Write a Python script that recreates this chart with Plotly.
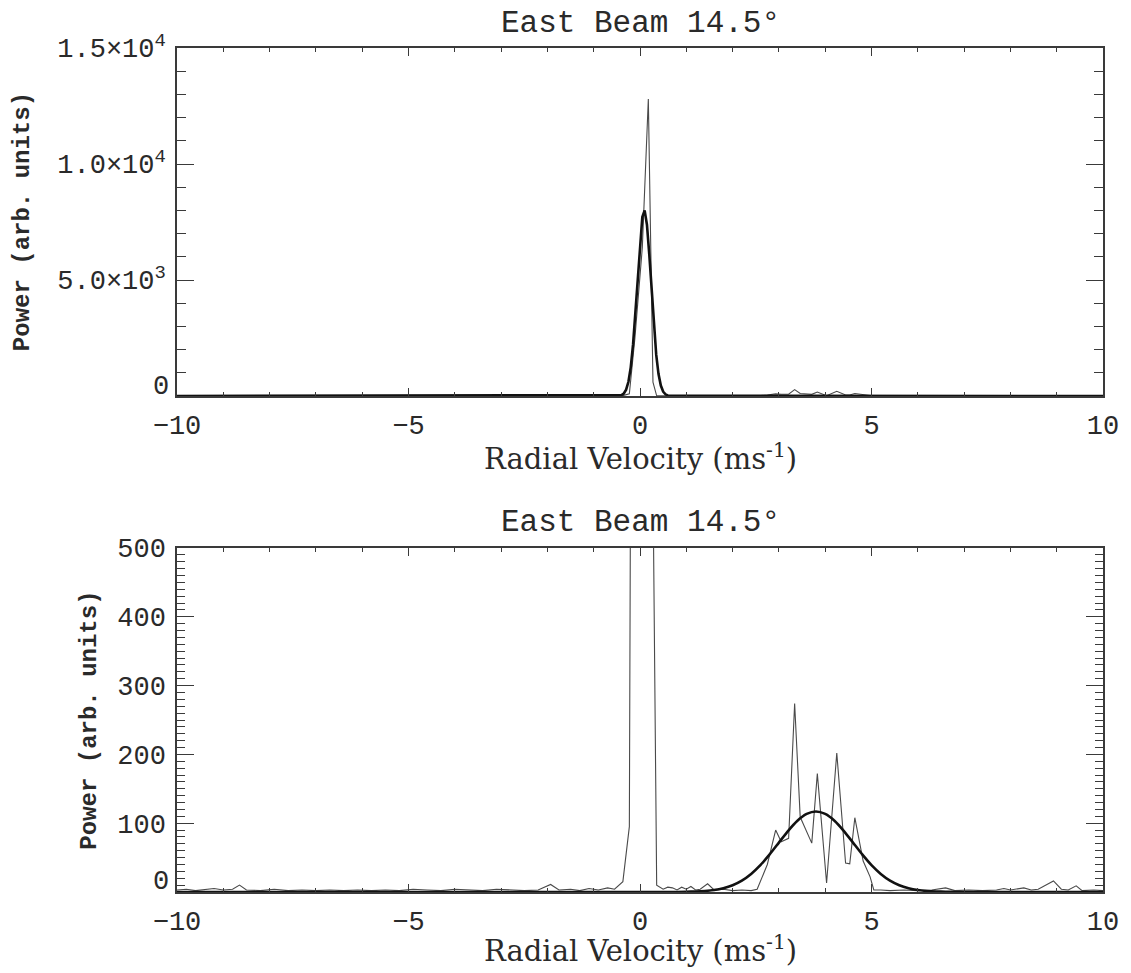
import plotly.graph_objects as go
from plotly.subplots import make_subplots

# ---------------- data ----------------
spec_v = [-10.0, -9.8, -9.6, -9.4, -9.2, -9.0, -8.8, -8.65, -8.5, -8.2, -7.9, -7.6, -7.3, -7.0,
          -6.7, -6.4, -6.1, -5.8, -5.5, -5.2, -4.9, -4.6, -4.3, -4.0, -3.7, -3.4, -3.1, -2.8,
          -2.5, -2.2, -1.93, -1.75, -1.5, -1.3, -1.1, -0.9, -0.7, -0.55, -0.49, -0.37, -0.23,
          -0.11, 0.05, 0.18, 0.28, 0.36, 0.5, 0.6, 0.7, 0.8, 0.9, 1.0, 1.1, 1.2, 1.3, 1.46,
          1.6, 1.8, 2.0, 2.2, 2.4, 2.53, 2.75, 2.93, 3.05, 3.21, 3.34, 3.46, 3.71, 3.83, 4.03,
          4.25, 4.44, 4.53, 4.64, 4.82, 4.97, 5.05, 5.2, 5.4, 5.7, 6.0, 6.3, 6.6, 6.8, 7.1,
          7.4, 7.7, 7.86, 8.0, 8.29, 8.45, 8.6, 8.93, 9.1, 9.25, 9.42, 9.55, 9.8, 10.0]
spec_p = [3, 4, 2, 3, 5, 3, 4, 10, 3, 2, 4, 2, 3, 2,
          3, 2, 3, 2, 3, 2, 4, 3, 2, 4, 3, 2, 4, 3,
          2, 3, 11, 3, 4, 2, 5, 3, 6, 4, 8, 15, 95,
          2500, 6400, 12800, 600, 10, 4, 7, 6, 3, 7, 4, 8, 3, 4, 12,
          3, 4, 2, 3, 2, 4, 40, 90, 73, 78, 274, 109, 71, 172, 13,
          202, 42, 41, 108, 45, 22, 3, 3, 2, 3, 2, 3, 6, 2, 3,
          2, 3, 5, 3, 6, 3, 4, 16, 4, 3, 9, 2, 3, 2]

fit1_v = [-10, -0.45, -0.4, -0.35, -0.3, -0.25, -0.2, -0.15, -0.1, -0.05, 0.0, 0.05, 0.1,
          0.15, 0.2, 0.25, 0.3, 0.35, 0.4, 0.45, 0.5, 0.55, 0.6, 0.65, 10]
fit1_p = [0, 12, 39, 108, 272, 613, 1234, 2224, 3587, 5176, 6683, 7720, 8000,
          7385, 6113, 4530, 3002, 1781, 945, 449, 191, 73, 25, 8, 0]

fit2_v = [-10, 0.8, 1.0, 1.2, 1.4, 1.6, 1.8, 2.0, 2.2, 2.4, 2.6, 2.8, 3.0, 3.2, 3.4, 3.6,
          3.8, 4.0, 4.2, 4.4, 4.6, 4.8, 5.0, 5.2, 5.4, 5.6, 5.8, 6.0, 6.2, 6.4, 6.6, 6.8, 10]
fit2_p = [0, 0.1, 0.3, 0.7, 1.5, 2.9, 5.6, 9.9, 16.6, 26.3, 39.0, 54.6, 71.8, 88.9, 103.6, 113.5,
          117, 113.5, 103.6, 88.9, 71.8, 54.6, 39.0, 26.3, 16.6, 9.9, 5.6, 2.9, 1.5, 0.7, 0.3, 0.1, 0]

x_ticks = [-10, -5, 0, 5, 10]
top_ytick_vals = [0, 5000, 10000, 15000]
top_ytick_text = ["", "5.0×10<sup>3</sup>", "1.0×10<sup>4</sup>", "1.5×10<sup>4</sup>"]
bot_ytick_vals = [0, 100, 200, 300, 400, 500]
bot_ytick_text = ["", "100", "200", "300", "400", "500"]
zero_label = "0"          # the zero label sits a little above its tick, as in the reference

panel_title = "East Beam 14.5°"
x_title = "Radial Velocity (ms<sup>-1</sup>)"
y_title = "<b>Power (arb. units)</b>"

# ---------------- figure ----------------
# page body has an 8px margin: work in reference pixels and subtract it
OFF = 8
W, H = 1131 - OFF, 973 - OFF
PL, PR, PT, PB = 177, 1110, 48, 892          # plot box in reference pixels
L, R, T, B = PL - OFF, W - (PR - OFF), PT - OFF, H - (PB - OFF)
pw, ph = W - L - R, H - T - B


def px2paper(rx):
    return (rx - OFF - L) / pw


def py2paper(ry):
    return (H - B - (ry - OFF)) / ph


FONT = "Liberation Mono, Courier New, monospace"
SERIF = "DejaVu Serif, Liberation Serif, serif"
TXT = "#2a2a2a"
AX = "#3a3a3a"
TICKSIZE = 27

fig = make_subplots(rows=2, cols=1)

for row in (1, 2):
    fig.add_trace(go.Scatter(x=spec_v, y=spec_p, mode="lines",
                             line=dict(color="#4a4a4a", width=1.1),
                             showlegend=False, hoverinfo="skip"), row=row, col=1)

fig.add_trace(go.Scatter(x=fit1_v, y=fit1_p, mode="lines",
                         line=dict(color="#111111", width=2.6),
                         showlegend=False, hoverinfo="skip"), row=1, col=1)
fig.add_trace(go.Scatter(x=fit2_v, y=fit2_p, mode="lines",
                         line=dict(color="#111111", width=2.6, shape="spline", smoothing=0.6),
                         showlegend=False, hoverinfo="skip"), row=2, col=1)

fig.update_xaxes(range=[-10, 10], tickmode="array", tickvals=x_ticks,
                 ticks="inside", ticklen=8, tickwidth=1.3, tickcolor=AX,
                 showline=True, linecolor=AX, linewidth=1.5, mirror="ticks",
                 showgrid=False, zeroline=False,
                 minor=dict(tickmode="linear", tick0=0, dtick=1, ticks="inside",
                            ticklen=4, tickwidth=1, tickcolor=AX, showgrid=False),
                 tickfont=dict(family=FONT, size=TICKSIZE, color=TXT),
                 ticklabelstandoff=4, domain=[0, 1])

ycommon = dict(ticks="inside", ticklen=17, tickwidth=1.3, tickcolor=AX,
               showline=True, linecolor=AX, linewidth=1.5, mirror="ticks",
               showgrid=False, zeroline=False,
               tickfont=dict(family=FONT, size=TICKSIZE, color=TXT),
               ticklabelstandoff=4)

fig.update_yaxes(row=1, col=1, range=[0, 15000], tickmode="array",
                 tickvals=top_ytick_vals, ticktext=top_ytick_text,
                 minor=dict(tickmode="linear", tick0=0, dtick=1000, ticks="inside",
                            ticklen=9, tickwidth=1, tickcolor=AX, showgrid=False),
                 domain=[py2paper(396), 1], **ycommon)

fig.update_yaxes(row=2, col=1, range=[0, 500], tickmode="array",
                 tickvals=bot_ytick_vals, ticktext=bot_ytick_text,
                 minor=dict(tickmode="linear", tick0=0, dtick=10, ticks="inside",
                            ticklen=8, tickwidth=1, tickcolor=AX, showgrid=False),
                 domain=[0, py2paper(548)], **ycommon)

cx = px2paper((PL + PR) / 2)
annotations = []
for ty in (23, 522):
    annotations.append(dict(text=panel_title, x=cx, y=py2paper(ty),
                            xref="paper", yref="paper", xanchor="center", yanchor="middle",
                            showarrow=False, font=dict(family=FONT, size=31, color=TXT)))
for ty in (457, 949):
    annotations.append(dict(text=x_title, x=cx, y=py2paper(ty),
                            xref="paper", yref="paper", xanchor="center", yanchor="middle",
                            showarrow=False, font=dict(family=SERIF, size=29, color=TXT)))
for tx, ty in ((22, 222), (88, 720)):
    annotations.append(dict(text=y_title, x=px2paper(tx), y=py2paper(ty),
                            xref="paper", yref="paper", xanchor="center", yanchor="middle",
                            textangle=-90, showarrow=False,
                            font=dict(family=FONT, size=24, color=TXT)))
for ty in (387, 882):
    annotations.append(dict(text=zero_label, x=px2paper(171), y=py2paper(ty),
                            xref="paper", yref="paper", xanchor="right", yanchor="middle",
                            showarrow=False, font=dict(family=FONT, size=TICKSIZE, color=TXT)))

fig.update_layout(width=W, height=H, margin=dict(l=L, r=R, t=T, b=B),
                  paper_bgcolor="white", plot_bgcolor="white",
                  annotations=annotations, showlegend=False)

fig.write_html("out.html")
